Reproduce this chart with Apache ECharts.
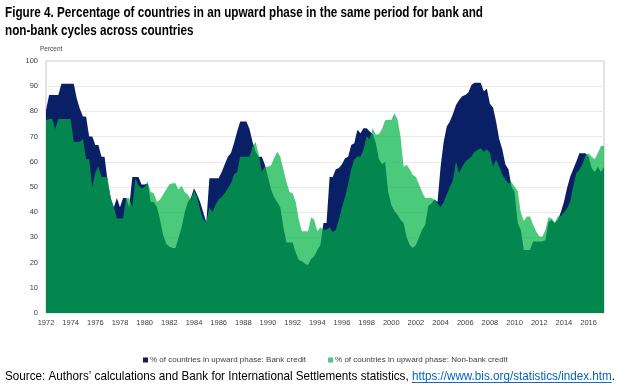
<!DOCTYPE html>
<html><head><meta charset="utf-8">
<script src="https://cdn.jsdelivr.net/npm/echarts@6/dist/echarts.min.js"></script>
<style>html,body{margin:0;padding:0;background:#fff}#c{width:640px;height:386px}</style>
</head><body><div id="c"></div>
<script>
// Quarterly observations, first point 1972 Q1
const startYear = 1972;
const stepYears = 0.25;

const bankCredit = [
  80.5, 86.5, 86.5, 86.5,   // 1972
  86.5, 91, 91, 91,         // 1973
  91, 91, 85, 81,           // 1974
  78, 78, 70, 70,           // 1975
  66.7, 66.7, 62, 62,       // 1976
  52, 45.6, 42, 45.6,       // 1977
  42, 45.6, 45.6, 42,       // 1978
  54, 54, 54, 51,           // 1979
  51, 51.5, 44, 44,         // 1980
  42, 37, 31, 27.5,         // 1981
  26.4, 25.8, 25.8, 30,     // 1982
  34, 40, 44, 45.6,         // 1983
  49.5, 47, 44, 40,         // 1984
  36, 53.5, 53.5, 53.5,     // 1985
  53.5, 56, 59, 62,         // 1986
  63.5, 67.5, 72, 76,       // 1987
  76, 76, 73, 68,           // 1988
  64, 62, 62, 58.8,         // 1989
  54, 49, 46, 44,           // 1990
  42, 34, 28, 28,           // 1991
  28, 24, 21, 20.5,         // 1992
  19.5, 19, 21.5, 22.5,     // 1993
  25, 27, 35.7, 35.7,       // 1994
  54, 54, 57, 57.5,         // 1995
  59, 61.4, 62, 66.7,       // 1996
  67.4, 72.7, 71.3, 73.3,   // 1997
  73.3, 72, 71, 67.4,       // 1998
  61, 59, 60, 48,           // 1999
  43, 40.5, 39, 37,         // 2000
  35.7, 30, 27, 25.8,       // 2001
  27, 30, 33, 35,           // 2002
  42.5, 43.5, 45, 44,       // 2003
  58, 68, 74, 76,           // 2004
  79, 82.5, 84.5, 86,       // 2005
  86.5, 87.5, 90.5, 91.4,   // 2006
  91.4, 91.4, 88, 89,       // 2007
  83, 81.5, 76, 69,         // 2008
  65, 59, 57, 50.2,         // 2009
  48, 35.7, 33, 25,         // 2010
  25, 25, 28.4, 28.4,       // 2011
  28.4, 28.4, 29, 36,       // 2012
  37, 35.7, 37, 40,         // 2013
  44, 49.5, 54, 57,         // 2014
  60, 63.4, 63.4, 63.4,     // 2015
  62, 57.5, 56, 58,         // 2016
  56, 58                    // 2017
];

const nonBankCredit = [
  76.5, 77, 77, 73,         // 1972
  77, 77, 77, 77,           // 1973
  77, 68, 68, 68,           // 1974
  69, 61, 61, 50,           // 1975
  56, 58, 54, 54,           // 1976
  54, 45.6, 42, 37.5,       // 1977
  37.5, 37.5, 45.6, 45.6,   // 1978
  42, 53.5, 50.5, 49.5,     // 1979
  50, 52, 48, 47.5,         // 1980
  44, 45, 47, 49,           // 1981
  51, 51.5, 51.5, 49,       // 1982
  50.5, 48, 47, 45,         // 1983
  48.5, 46, 41, 37,         // 1984
  36, 42, 40, 43,           // 1985
  45, 46, 47.5, 49.5,       // 1986
  51.5, 55, 56, 62,         // 1987
  62, 62, 62, 66,           // 1988
  68, 63, 56, 58,           // 1989
  58, 58.5, 61.5, 64,       // 1990
  62, 57, 52, 48,           // 1991
  47.5, 44, 37, 32.4,       // 1992
  32.4, 32.4, 38, 37,       // 1993
  32.4, 34, 33, 33,         // 1994
  34, 32, 33, 37,           // 1995
  42, 46, 51, 57,           // 1996
  61, 62, 62, 65,           // 1997
  70, 69, 73.3, 70.7,       // 1998
  71, 73, 76.5, 76.6,       // 1999
  76.6, 79.3, 77, 70,       // 2000
  58, 58.8, 57, 54.8,       // 2001
  54, 51, 48, 45.6,         // 2002
  45.6, 45.6, 45, 43.6,     // 2003
  42, 44, 47, 50,           // 2004
  52.8, 60, 55.5, 58,       // 2005
  60, 61, 62, 64,           // 2006
  64.7, 65.4, 64, 65,       // 2007
  63.4, 58, 60.8, 58,       // 2008
  55, 53, 51.5, 52,         // 2009
  50.2, 48.5, 40, 36.5,     // 2010
  38.3, 38.3, 35, 32.4,     // 2011
  30.4, 30.4, 33, 38,       // 2012
  37.5, 35.7, 38.3, 38.5,   // 2013
  40, 41.5, 44, 50,         // 2014
  55.5, 56.8, 59, 62.5,     // 2015
  63.4, 62, 61, 63.5,       // 2016
  66.3, 66.3                // 2017
];

const seriesNames = [
  '% of countries in upward phase: Bank credit',
  '% of countries in upward phase: Non-bank credit'
];
const titleLines = [
  'Figure 4. Percentage of countries in an upward phase in the same period for bank and',
  'non-bank cycles across countries'
];
const yAxisUnit = 'Percent';
const srcPrefix = 'Source: Authors\u2019 calculations and Bank for International Settlements statistics, ';
const srcLink = 'https://www.bis.org/statistics/index.htm';
const srcSuffix = '.';

function toPairs(arr) { return arr.map((v, i) => [startYear + i * stepYears, v]); }

const SANS = "'Liberation Sans',Arial,sans-serif";

// text measurement for horizontal fitting of title / source lines
const mctx = document.createElement('canvas').getContext('2d');
const titleFont = 'bold 15px ' + SANS;
mctx.font = titleFont;
const titleScale = 478 / mctx.measureText(titleLines[0]).width;

const srcFont = '13px ' + SANS;
mctx.font = srcFont;
const wPrefix = mctx.measureText(srcPrefix).width;
const wLink = mctx.measureText(srcLink).width;
const wSuffix = mctx.measureText(srcSuffix).width;
const srcScale = 610 / (wPrefix + wLink + wSuffix);
const srcX = 5, srcY = 376;

const chart = echarts.init(document.getElementById('c'), null, { renderer: 'canvas' });
chart.setOption({
  animation: false,
  grid: { left: 46, top: 61, right: 36, bottom: 73, show: true, borderColor: '#c4c4c4', borderWidth: 1 },
  xAxis: {
    type: 'value', min: 1972, max: 2017.25, interval: 2,
    axisLine: { show: false }, axisTick: { show: false }, splitLine: { show: false },
    axisLabel: { fontSize: 7.5, color: '#404040', margin: 6, fontFamily: SANS, formatter: v => String(v) }
  },
  yAxis: {
    type: 'value', min: 0, max: 100, interval: 10,
    axisLine: { show: false }, axisTick: { show: false },
    splitLine: { lineStyle: { color: '#e9e9e9', width: 1 } },
    axisLabel: { fontSize: 7.5, color: '#404040', margin: 8, fontFamily: SANS }
  },
  legend: {
    left: 138, top: 351, itemWidth: 5, itemHeight: 5, itemGap: 22, icon: 'rect',
    textStyle: { fontSize: 8, color: '#404040', fontFamily: SANS, padding: [0, 0, 0, -3] },
    data: [
      { name: seriesNames[0], itemStyle: { color: '#0a2066' } },
      { name: seriesNames[1], itemStyle: { color: '#4cc587' } }
    ]
  },
  series: [
    {
      name: seriesNames[0], type: 'line', data: toPairs(bankCredit), symbol: 'none', z: 2,
      lineStyle: { width: 0 }, itemStyle: { color: '#0a2066' },
      areaStyle: { color: '#0a2066', opacity: 1 }
    },
    {
      name: seriesNames[1], type: 'line', data: toPairs(nonBankCredit), symbol: 'none', z: 3,
      lineStyle: { width: 0 }, itemStyle: { color: '#4cc587' },
      areaStyle: { color: '#00b445', opacity: 0.7 }
    }
  ],
  graphic: [
    {
      type: 'group', x: 5, y: 5, scaleX: titleScale, scaleY: 1,
      children: [
        { type: 'text', x: 0, y: 0, style: { text: titleLines[0], font: titleFont, fill: '#000', verticalAlign: 'top' } },
        { type: 'text', x: 0, y: 18, style: { text: titleLines[1], font: titleFont, fill: '#000', verticalAlign: 'top' } }
      ]
    },
    { type: 'text', left: 40, top: 46, style: { text: yAxisUnit, font: '6.5px ' + SANS, fill: '#404040' } },
    {
      type: 'group', x: srcX, y: srcY, scaleX: srcScale, scaleY: 1,
      children: [
        { type: 'text', x: 0, y: 0, style: { text: srcPrefix, font: srcFont, fill: '#000', verticalAlign: 'middle' } },
        { type: 'text', x: wPrefix, y: 0, style: { text: srcLink, font: srcFont, fill: '#0563c1', verticalAlign: 'middle' } },
        { type: 'text', x: wPrefix + wLink, y: 0, style: { text: srcSuffix, font: srcFont, fill: '#000', verticalAlign: 'middle' } },
        { type: 'line', shape: { x1: wPrefix, y1: 6.5, x2: wPrefix + wLink, y2: 6.5 }, style: { stroke: '#0563c1', lineWidth: 1 } }
      ]
    }
  ]
});
</script></body></html>
